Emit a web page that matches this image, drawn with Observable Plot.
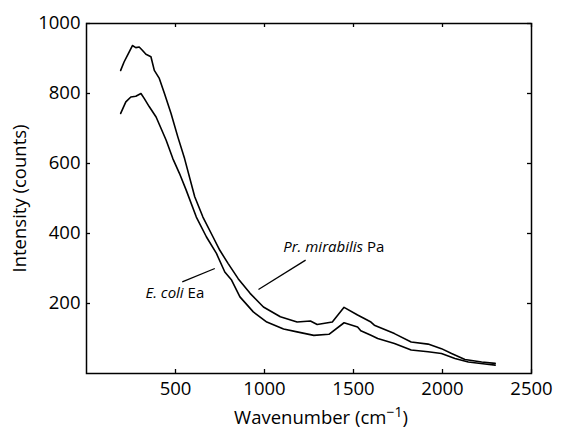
<!DOCTYPE html>
<html>
<head>
<meta charset="utf-8">
<script src="https://cdn.jsdelivr.net/npm/d3@7"></script>
<script src="https://cdn.jsdelivr.net/npm/@observablehq/plot@0.6"></script>
<style>
  html, body { margin: 0; padding: 0; background: #fff; }
  svg { font-family: "Open Sans", "DejaVu Sans", sans-serif; }
</style>
</head>
<body>
<div id="chart"></div>
<script>
// Pr. mirabilis Pa (upper curve)
const wnPa = [192, 211, 230, 258, 277, 296, 315, 334, 362, 381, 409, 438, 475, 513, 551, 608, 654, 711, 749, 796, 852, 919, 994, 1089, 1183, 1258, 1296, 1381, 1447, 1523, 1598, 1617, 1730, 1824, 1919, 1994, 2051, 2126, 2220, 2296];
const intPa = [866, 890, 909, 937, 931, 933, 923, 912, 905, 866, 843, 800, 743, 676, 614, 505, 447, 390, 352, 314, 271, 229, 190, 162, 147, 150, 140, 147, 189, 167, 147, 138, 114, 90, 84, 71, 57, 40, 33, 29];

// E. coli Ea (lower curve)
const wnEa = [192, 221, 249, 277, 306, 324, 353, 391, 419, 447, 485, 522, 560, 617, 674, 730, 777, 815, 862, 937, 1013, 1107, 1183, 1277, 1362, 1447, 1523, 1541, 1598, 1636, 1730, 1824, 1919, 1994, 2070, 2145, 2239, 2296];
const intEa = [743, 776, 790, 792, 800, 786, 762, 733, 700, 667, 614, 572, 524, 447, 390, 343, 290, 267, 219, 176, 147, 127, 119, 109, 112, 145, 133, 122, 109, 100, 86, 67, 62, 57, 43, 33, 27, 24];

const xTicks = [500, 1000, 1500, 2000, 2500];
const yTicks = [200, 400, 600, 800, 1000];

// annotations
const annoText = ["Pr. mirabilis Pa", "E. coli Ea"];
const annoWn = [1105, 331];
const annoInt = [362, 229];
const leadWn1 = [1231, 721];
const leadInt1 = [324, 300];
const leadWn2 = [966, 538];
const leadInt2 = [240, 262];

const pa = wnPa.map((w, i) => ({w, v: intPa[i]}));
const ea = wnEa.map((w, i) => ({w, v: intEa[i]}));
const annos = annoText.map((t, i) => ({t, w: annoWn[i], v: annoInt[i]}));
const leads = leadWn1.map((w, i) => ({x1: w, y1: leadInt1[i], x2: leadWn2[i], y2: leadInt2[i]}));

const W = 561, H = 431, mL = 86, mR = 30, mT = 23, mB = 58;
const fw = W - mL - mR, fh = H - mT - mB, tk = 4;
const fs = 18.5;
const fmt = d3.format("d");
const chart = Plot.plot({
  width: W,
  height: H,
  marginLeft: mL,
  marginRight: mR,
  marginTop: mT,
  marginBottom: mB,
  style: {fontFamily: '"Open Sans", "DejaVu Sans", sans-serif', fontSize: fs + "px", color: "black", background: "white"},
  x: {domain: [0, 2500]},
  y: {domain: [0, 1000]},
  marks: [
    Plot.axisX({anchor: "bottom", ticks: xTicks, tickFormat: fmt, tickSize: 0, tickPadding: 8, label: null, fontSize: fs}),
    Plot.axisY({anchor: "left", ticks: yTicks, tickFormat: fmt, tickSize: 0, tickPadding: 6, label: null, fontSize: fs}),
    Plot.ruleX(xTicks, {x: d => d, insetTop: fh - tk, stroke: "black", strokeWidth: 1.3}),
    Plot.ruleX(xTicks, {x: d => d, insetBottom: fh - tk, stroke: "black", strokeWidth: 1.3}),
    Plot.ruleY(yTicks, {y: d => d, insetRight: fw - tk, stroke: "black", strokeWidth: 1.3}),
    Plot.ruleY(yTicks, {y: d => d, insetLeft: fw - tk, stroke: "black", strokeWidth: 1.3}),
    Plot.frame({stroke: "black", strokeWidth: 1.5}),
    Plot.line(pa, {x: "w", y: "v", stroke: "black", strokeWidth: 1.6}),
    Plot.line(ea, {x: "w", y: "v", stroke: "black", strokeWidth: 1.6}),
    Plot.link(leads, {x1: "x1", y1: "y1", x2: "x2", y2: "y2", stroke: "black", strokeWidth: 1.3}),
    Plot.text(annos, {x: "w", y: "v", text: "t", textAnchor: "start", fontSize: 15, fill: "black", className: "anno"}),
    Plot.text(["Wavenumber (cm−1)"], {frameAnchor: "bottom", textAnchor: "middle", lineAnchor: "middle", dy: 45, dx: 12, fontSize: fs, fill: "black", className: "xlab"}),
    Plot.text(["Intensity (counts)"], {frameAnchor: "left", textAnchor: "middle", lineAnchor: "middle", dx: -66, rotate: -90, fontSize: fs, fill: "black"})
  ]
});

d3.select(chart).selectAll("g.anno text").each(function() {
  const s = this.textContent;
  const idx = s.lastIndexOf(" ");
  const it = s.slice(0, idx), rest = s.slice(idx + 1);
  this.textContent = "";
  d3.select(this).append("tspan").attr("font-style", "italic").text(it);
  d3.select(this).append("tspan").text("\u00A0" + rest);
});

d3.select(chart).selectAll("g.xlab text").each(function() {
  const s = this.textContent;
  const m = s.match(/^(.*cm)(−1)(\))$/);
  if (!m) return;
  this.textContent = "";
  const t = d3.select(this);
  t.append("tspan").text(m[1]);
  t.append("tspan").attr("font-size", "14px").attr("dy", "-7").text(m[2]);
  t.append("tspan").attr("dy", "7").text(m[3]);
});

document.getElementById("chart").appendChild(chart);
</script>
</body>
</html>
